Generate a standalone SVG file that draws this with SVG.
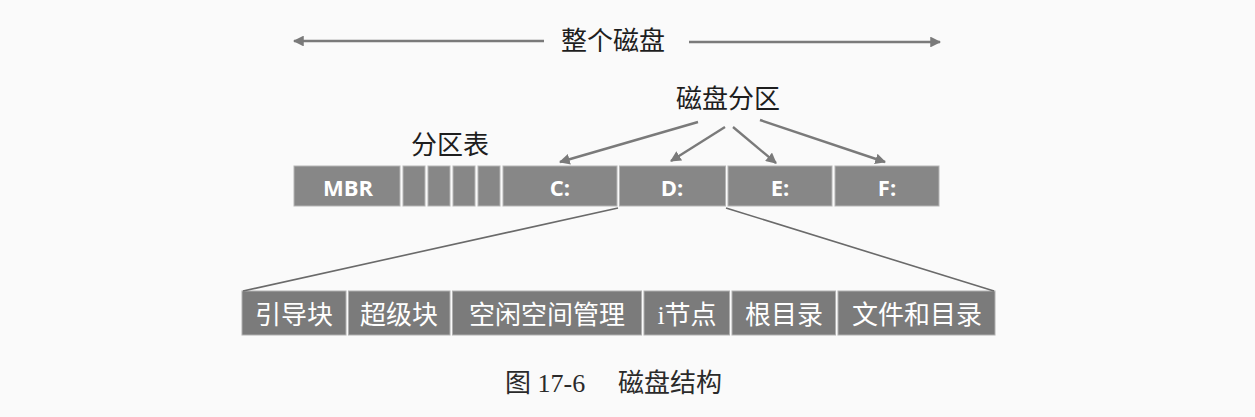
<svg xmlns="http://www.w3.org/2000/svg" width="1255" height="417" viewBox="0 0 1255 417">
  <style>
    .lbl { font-family: "Noto Sans CJK SC", "Noto Sans", sans-serif; fill: #1e1e1e; font-size: 26px; text-anchor: middle; }
    .cell { fill: #878787; stroke: #b5b5b5; stroke-width: 1; }
    .cell2 { fill: #7b7b7b; stroke: #b0b0b0; stroke-width: 1; }
    .ctext { font-family: "Open Sans", "Liberation Sans", sans-serif; font-weight: bold; fill: #ffffff; font-size: 22px; text-anchor: middle; }
    .btext { font-family: "Liberation Serif", "Noto Sans CJK SC", serif; fill: #ffffff; font-size: 26px; text-anchor: middle; }
    .arr { stroke: #7a7a7a; stroke-width: 2.4; fill: none; }
    .conn { stroke: #6a6a6a; stroke-width: 1.6; fill: none; }
    .cap { font-family: "Liberation Serif", "Noto Sans CJK SC", serif; fill: #2a2a2a; font-size: 26px; }
  </style>
  <defs>
    <marker id="ah" viewBox="0 0 10 10" refX="9" refY="5" markerWidth="4.5" markerHeight="4.5" orient="auto" markerUnits="strokeWidth">
      <path d="M0,0 L10,5 L0,10 z" fill="#7a7a7a"/>
    </marker>
  </defs>
  <rect width="1255" height="417" fill="#fafafa"/>

  <g id="whole-disk">
    <text class="lbl" x="613" y="50">整个磁盘</text>
  </g>
  <g id="partition-label">
    <text class="lbl" x="728" y="108">磁盘分区</text>
  </g>
  <g id="table-label">
    <text class="lbl" x="450" y="154">分区表</text>
  </g>

  <g id="disk-bar">
    <g id="mbr"><rect class="cell" x="294" y="166" width="106" height="40"/><text class="ctext" x="348" y="196">MBR</text></g>
    <g id="pt1"><rect class="cell" x="403" y="166" width="22" height="40"/></g>
    <g id="pt2"><rect class="cell" x="428" y="166" width="22" height="40"/></g>
    <g id="pt3"><rect class="cell" x="453" y="166" width="22" height="40"/></g>
    <g id="pt4"><rect class="cell" x="478" y="166" width="22" height="40"/></g>
    <g id="c"><rect class="cell" x="503" y="166" width="114" height="40"/><text class="ctext" x="560" y="196">C:</text></g>
    <g id="d"><rect class="cell" x="619.5" y="166" width="106" height="40"/><text class="ctext" x="672" y="196">D:</text></g>
    <g id="e"><rect class="cell" x="728" y="166" width="104" height="40"/><text class="ctext" x="780" y="196">E:</text></g>
    <g id="f"><rect class="cell" x="835" y="166" width="104" height="40"/><text class="ctext" x="887" y="196">F:</text></g>
  </g>

  <g id="partition-bar">
    <g id="boot"><rect class="cell2" x="242" y="291" width="104" height="44"/><text class="btext" x="294" y="324">引导块</text></g>
    <g id="super"><rect class="cell2" x="348.5" y="291" width="101.5" height="44"/><text class="btext" x="399" y="324">超级块</text></g>
    <g id="free"><rect class="cell2" x="452.5" y="291" width="189" height="44"/><text class="btext" x="547" y="324">空闲空间管理</text></g>
    <g id="inode"><rect class="cell2" x="644" y="291" width="85.5" height="44"/><text class="btext" x="687" y="324">i节点</text></g>
    <g id="root"><rect class="cell2" x="732" y="291" width="103.5" height="44"/><text class="btext" x="784" y="324">根目录</text></g>
    <g id="files"><rect class="cell2" x="838" y="291" width="157" height="44"/><text class="btext" x="917" y="324">文件和目录</text></g>
  </g>

  <g id="connectors">
    <line class="arr" x1="544" y1="41" x2="294" y2="41" marker-end="url(#ah)"/>
    <line class="arr" x1="689" y1="42" x2="940" y2="42" marker-end="url(#ah)"/>
    <line class="arr" x1="698" y1="122" x2="560" y2="162" marker-end="url(#ah)"/>
    <line class="arr" x1="725" y1="127" x2="671" y2="161" marker-end="url(#ah)"/>
    <line class="arr" x1="733" y1="127" x2="776" y2="163" marker-end="url(#ah)"/>
    <line class="arr" x1="760" y1="120" x2="885" y2="162" marker-end="url(#ah)"/>
    <line class="conn" x1="618" y1="208" x2="243" y2="291"/>
    <line class="conn" x1="726" y1="208" x2="994" y2="291"/>
  </g>

  <g id="caption">
    <text class="cap" x="505" y="392">图 17-6</text>
    <text class="cap" x="618" y="392">磁盘结构</text>
  </g>
</svg>
